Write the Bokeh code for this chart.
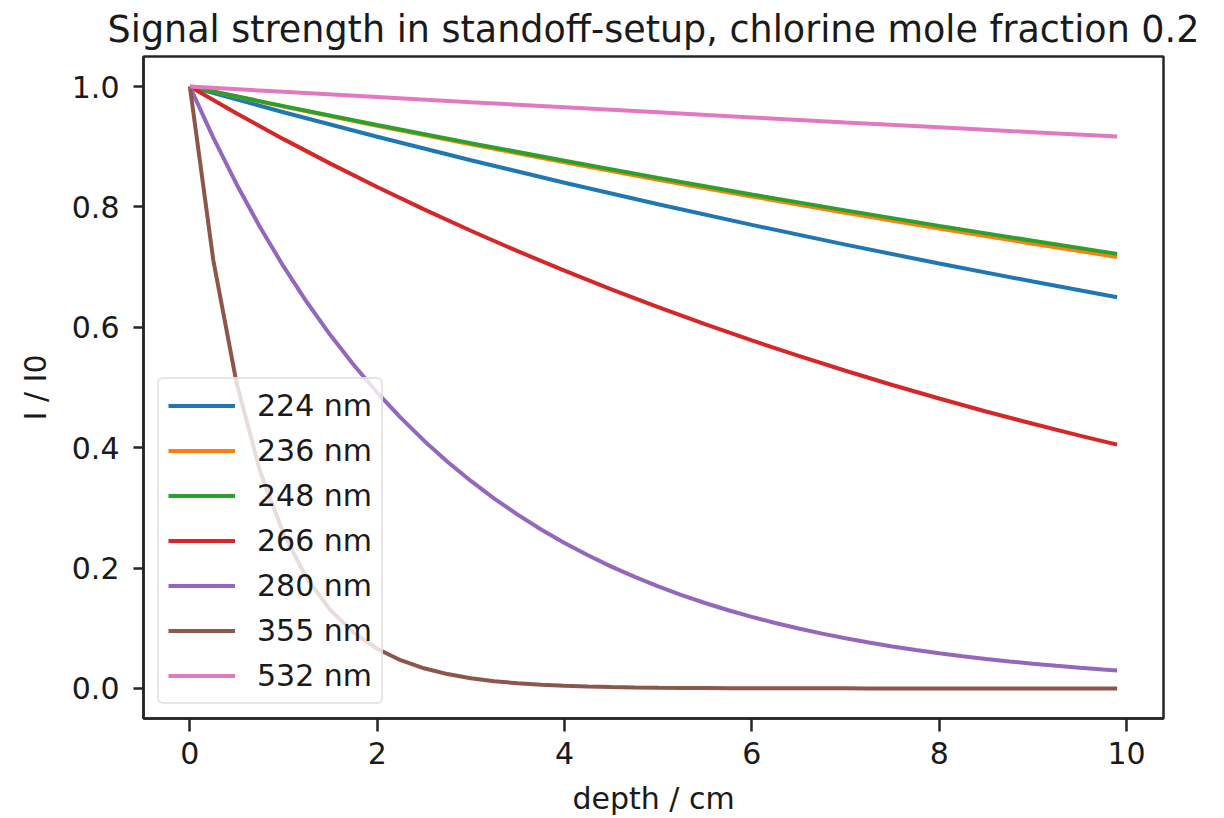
from bokeh.plotting import figure
from bokeh.models import Range1d, FixedTicker, PrintfTickFormatter
from bokeh.embed import file_html
from bokeh.resources import INLINE

# depth grids (cm)
depth = [0, 1, 2, 3, 4, 5, 6, 7, 8, 9, 9.9]
depth_half = [0, 0.5, 1.0, 1.5, 2.0, 2.5, 3.0, 3.5, 4.0, 4.5, 5.0,
              5.5, 6.0, 6.5, 7.0, 7.5, 8.0, 8.5, 9.0, 9.5, 9.9]
depth_fine = [0, 0.25, 0.5, 0.75, 1.0, 1.25, 1.5, 1.75, 2.0, 2.25, 2.5, 2.75, 3.0,
              3.25, 3.5, 3.75, 4.0, 4.25, 4.5, 4.75, 5.0, 5.25, 5.5, 5.75, 6.0,
              6.25, 6.5, 6.75, 7.0, 7.25, 7.5, 7.75, 8.0, 8.25, 8.5, 8.75, 9.0,
              9.25, 9.5, 9.75, 9.9]

# relative intensity I / I0 per wavelength
i_224 = [1.000, 0.9574, 0.9167, 0.8776, 0.8403, 0.8045, 0.7702, 0.7374, 0.7060, 0.6760, 0.650]
i_236 = [1.000, 0.9670, 0.9350, 0.9041, 0.8742, 0.8453, 0.8174, 0.7904, 0.7643, 0.7390, 0.717]
i_248 = [1.000, 0.9676, 0.9363, 0.9060, 0.8767, 0.8483, 0.8208, 0.7943, 0.7686, 0.7437, 0.722]
i_266 = [1.000, 0.9554, 0.9127, 0.8720, 0.8331, 0.7959, 0.7604, 0.7265, 0.6941, 0.6631,
         0.6335, 0.6052, 0.5782, 0.5524, 0.5278, 0.5042, 0.4817, 0.4602, 0.4397, 0.4201, 0.405]
i_280 = [1.000, 0.9151, 0.8374, 0.7662, 0.7012, 0.6416, 0.5871, 0.5373, 0.4916, 0.4499,
         0.4117, 0.3767, 0.3447, 0.3154, 0.2887, 0.2641, 0.2417, 0.2212, 0.2024, 0.1852,
         0.1695, 0.1551, 0.1419, 0.1299, 0.1188, 0.1087, 0.0995, 0.0910, 0.0833, 0.0762,
         0.0698, 0.0638, 0.0584, 0.0535, 0.0489, 0.0448, 0.0410, 0.0375, 0.0343, 0.0314, 0.0298]
i_355 = [1.000, 0.7118, 0.5066, 0.3606, 0.2567, 0.1827, 0.1300, 0.0926, 0.0659, 0.0469,
         0.0334, 0.0238, 0.0169, 0.0120, 0.0086, 0.0061, 0.0043, 0.0031, 0.0022, 0.0016,
         0.0011, 0.0008, 0.0006, 0.0004, 0.0003, 0.0002, 0.0001, 0.0001, 0.0001, 0.0000,
         0.0000, 0.0000, 0.0000, 0.0000, 0.0000, 0.0000, 0.0000, 0.0000, 0.0000, 0.0000, 0.0000]
i_532 = [1.000, 0.9913, 0.9827, 0.9741, 0.9656, 0.9572, 0.9488, 0.9405, 0.9323, 0.9242, 0.917]

labels = ["224 nm", "236 nm", "248 nm", "266 nm", "280 nm", "355 nm", "532 nm"]
colors = ["#1f77b4", "#ff7f0e", "#2ca02c", "#d62728", "#9467bd", "#8c564b", "#e377c2"]
x_ticks = [0, 2, 4, 6, 8, 10]
y_ticks = [0.0, 0.2, 0.4, 0.6, 0.8, 1.0]

FONT = "DejaVu Sans"
INK = "#1a1a1a"

p = figure(width=1224, height=818, output_backend="svg", toolbar_location=None,
           x_range=Range1d(-0.495, 10.395), y_range=Range1d(-0.05, 1.05),
           min_border_left=143, min_border_right=61, min_border_top=56, min_border_bottom=98,
           title="Signal strength in standoff-setup, chlorine mole fraction 0.2")

p.title.text_font = FONT
p.title.text_font_size = "36.5px"
p.title.text_font_style = "normal"
p.title.align = "center"
p.title.text_color = INK
p.title.standoff = 11

p.xgrid.visible = False
p.ygrid.visible = False
p.outline_line_color = "#262626"
p.outline_line_width = 2.5
p.background_fill_color = "white"
p.border_fill_color = "white"

series = [(depth, i_224), (depth, i_236), (depth, i_248), (depth_half, i_266),
          (depth_fine, i_280), (depth_fine, i_355), (depth, i_532)]
for (xs, ys), lab, col in zip(series, labels, colors):
    p.line(xs, ys, line_color=col, line_width=4, legend_label=lab)

for ax in (p.xaxis[0], p.yaxis[0]):
    ax.axis_line_color = "#262626"
    ax.axis_line_width = 2.5
    ax.major_tick_line_color = "#262626"
    ax.major_tick_line_width = 2.5
    ax.major_tick_in = 0
    ax.minor_tick_line_color = None
    ax.major_label_text_font = FONT
    ax.major_label_text_font_size = "30px"
    ax.major_label_text_color = INK
    ax.axis_label_text_font = FONT
    ax.axis_label_text_font_size = "30px"
    ax.axis_label_text_font_style = "normal"
    ax.axis_label_text_color = INK

p.xaxis.major_tick_out = 13
p.yaxis.major_tick_out = 10
p.xaxis.major_label_standoff = 10
p.yaxis.major_label_standoff = 14
p.xaxis.ticker = FixedTicker(ticks=x_ticks)
p.yaxis.ticker = FixedTicker(ticks=y_ticks)
p.yaxis.formatter = PrintfTickFormatter(format="%.1f")
p.xaxis.axis_label = "depth / cm"
p.yaxis.axis_label = "I / I0"
p.xaxis.axis_label_standoff = 14
p.yaxis.axis_label_standoff = 16

leg = p.legend[0]
leg.location = "bottom_left"
leg.margin = 14
leg.padding = 9
leg.label_standoff = 22
leg.glyph_width = 67
leg.glyph_height = 35
leg.label_height = 35
leg.spacing = 10
leg.label_text_font = FONT
leg.label_text_font_size = "30px"
leg.label_text_color = INK
leg.border_line_color = "#cccccc"
leg.border_line_width = 2
leg.border_radius = 6
leg.background_fill_color = "white"
leg.background_fill_alpha = 0.8

open("out.html", "w").write(file_html(p, INLINE))
